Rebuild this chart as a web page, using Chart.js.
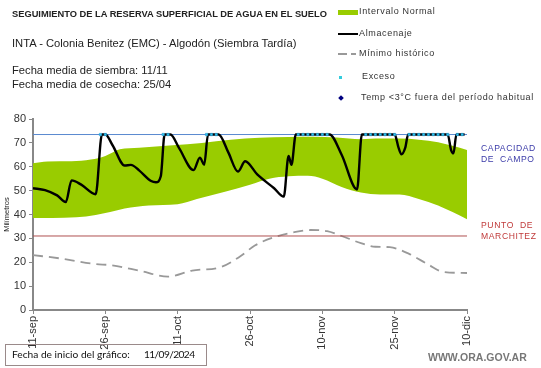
<!DOCTYPE html>
<html>
<head>
<meta charset="utf-8">
<script src="https://cdn.jsdelivr.net/npm/chart.js@4.4.1/dist/chart.umd.min.js"></script>
<style>
  body { margin: 0; background: #fff; }
  #wrap { position: relative; width: 541px; height: 368px; overflow: hidden; font-family: "Liberation Sans", Arial, sans-serif; color: #222; }
  #chart { position: absolute; left: 0; top: 0; }
  .t { position: absolute; white-space: nowrap; }
  .leg { position: absolute; white-space: nowrap; font-size: 9px; letter-spacing: 0.65px; color: #333; }
</style>
</head>
<body>
<div id="wrap">
  <canvas id="chart" width="541" height="368"></canvas>

  <div class="t" style="left:12px; top:9px; font-size:9.3px; font-weight:bold;">SEGUIMIENTO DE LA RESERVA SUPERFICIAL DE AGUA EN EL SUELO</div>
  <div class="t" style="left:12px; top:37px; font-size:11.2px;">INTA - Colonia Benitez (EMC) - Algodón (Siembra Tardía)</div>
  <div class="t" style="left:12px; top:64px; font-size:11.2px;">Fecha media de siembra: 11/11</div>
  <div class="t" style="left:12px; top:78px; font-size:11.2px;">Fecha media de cosecha: 25/04</div>

  <!-- leyenda -->
  <div style="position:absolute; left:338px; top:10px; width:20px; height:5px; background:#99cc00;"></div>
  <div class="leg" style="left:359px; top:6px;">Intervalo Normal</div>
  <div style="position:absolute; left:338px; top:33px; width:20px; height:2px; background:#000;"></div>
  <div class="leg" style="left:359px; top:28px;">Almacenaje</div>
  <div style="position:absolute; left:338px; top:53px; width:9px; height:1.5px; background:#999;"></div>
  <div style="position:absolute; left:351px; top:53px; width:5px; height:1.5px; background:#999;"></div>
  <div class="leg" style="left:359px; top:48px;">Mínimo histórico</div>
  <div style="position:absolute; left:339px; top:76px; width:3px; height:3px; background:#33ccdd;"></div>
  <div class="leg" style="left:362px; top:71px;">Exceso</div>
  <div style="position:absolute; left:339px; top:96px; width:4px; height:4px; background:#000080; transform:rotate(45deg);"></div>
  <div class="leg" style="left:361px; top:92px;">Temp &lt;3°C fuera del período habitual</div>

  <!-- rotulos de umbrales -->
  <div class="t" style="left:481px; top:143px; font-size:8.6px; letter-spacing:0.6px; color:#3a3aa8; line-height:11px;">CAPACIDAD<br>DE&nbsp; CAMPO</div>
  <div class="t" style="left:481px; top:220px; font-size:8.6px; letter-spacing:0.6px; color:#c03a3a; line-height:11px;">PUNTO&nbsp; DE<br>MARCHITEZ</div>

  <div style="position:absolute; left:5px; top:344px; width:202px; height:22px; border:1px solid #9a8a8a; box-sizing:border-box;"></div>
  <div class="t" style="left:12px; top:348px; font-family:Lato, sans-serif; font-size:10.2px; color:#111;">Fecha de inicio del gráfico:</div>
  <div class="t" style="left:144px; top:348px; font-family:Lato, sans-serif; font-size:10.2px; letter-spacing:-0.6px; color:#111;">11/09/2024</div>
  <div class="t" style="left:428px; top:351px; font-size:10.5px; font-weight:bold; color:#777;">WWW.ORA.GOV.AR</div>
</div>

<script>
// dias desde el 11-sep
var tickLabels = ['11-sep', '26-sep', '11-oct', '26-oct', '10-nov', '25-nov', '10-dic'];

var bandDays  = [0, 3, 8, 12, 15, 18, 22, 29, 35, 41, 47, 53, 58, 63, 68, 72, 76, 80, 84, 87, 90];
var bandUpper = [61.5, 62.2, 62.3, 63, 64.5, 67.3, 68, 69, 70, 71.3, 72.1, 72.5, 72.6, 72.2, 71.5, 71.8, 71.8, 71.3, 70.3, 68.8, 67];
var lowDays   = [0, 4, 9, 13, 16, 19, 24, 30, 34, 40, 45, 49, 53, 57, 60, 64, 68, 72, 76, 80, 84, 87, 90];
var bandLower = [38.5, 38.5, 38.8, 39.8, 41, 42.5, 43.8, 44.3, 46.5, 49.6, 52.5, 55, 56, 56.2, 55, 51.5, 49.2, 48.4, 48.4, 46.5, 43.8, 41, 38];

var almDays   = [0, 2.5, 5, 6.8, 8, 10, 13, 14.3, 15, 16.5, 19, 20.3, 22, 24.5, 25.5, 26.5, 27.3, 28.5, 30.3, 33.3, 34.6, 35.5, 36.3, 38.5,
                 40.5, 42.5, 44, 46.5, 50, 52, 53, 53.6, 54.5, 61.5, 64, 67.2, 68.2, 75, 75.8, 76.4, 77.2, 77.8, 86, 86.7, 87.2, 87.8, 89.5];
var almValues = [51, 50.2, 48, 45.2, 54.3, 52.5, 48.5, 73.5, 73.5, 69, 60.5, 60.8, 58.5, 54, 53.5, 56, 73.5, 73.5, 67.8, 58.6, 63.8, 60.9, 73.5, 73.5,
                 66, 58, 62.3, 56.8, 51, 47.5, 64.5, 60.8, 73.5, 73.5, 65, 50.5, 73.5, 73.5, 68, 65.2, 68, 73.5, 73.5, 67, 65.6, 73.5, 73.5];

var minDays   = [0, 6, 13, 16, 22, 28, 33, 39, 43, 46, 50, 54, 57.5, 61, 64, 68, 71, 74, 78, 82, 85, 90];
var minValues = [23, 21.5, 19.2, 18.8, 16.5, 14, 16.5, 18, 22.5, 27, 30.5, 32.5, 33.5, 33, 31, 28, 26.5, 26.3, 23.5, 19, 16, 15.5];

var excesoDays = [14, 15, 27, 28, 36, 37, 38, 55, 56, 57, 58, 59, 60, 61, 69, 70, 71, 72, 73, 74, 75,
                  78, 79, 80, 81, 82, 83, 84, 85, 86, 88, 89];

var capacidadCampo = 73.5;
var puntoMarchitez = 31;

function pts(xs, ys) {
    return xs.map(function (x, i) { return { x: x, y: ys[i] }; });
}
function flat(v) {
    return [{ x: 0, y: v }, { x: 90, y: v }];
}

Chart.defaults.font.family = '"Liberation Sans", Arial, sans-serif';
Chart.defaults.color = '#333';

var ctx = document.getElementById('chart');
var chart = new Chart(ctx, {
    type: 'line',
    data: {
        datasets: [
            {   // intervalo normal (superior)
                data: pts(bandDays, bandUpper),
                borderWidth: 0, borderColor: 'rgba(0,0,0,0)',
                backgroundColor: '#99cc00',
                fill: '+1', pointRadius: 0, cubicInterpolationMode: 'monotone', order: 10
            },
            {   // intervalo normal (inferior)
                data: pts(lowDays, bandLower),
                borderWidth: 0, borderColor: 'rgba(0,0,0,0)',
                fill: false, pointRadius: 0, cubicInterpolationMode: 'monotone', order: 11
            },
            {   // minimo historico
                data: pts(minDays, minValues),
                borderColor: '#999', borderWidth: 1.8, borderDash: [10, 6],
                fill: false, pointRadius: 0, cubicInterpolationMode: 'monotone', order: 5
            },
            {
                data: flat(capacidadCampo),
                borderColor: '#5a8ad0', borderWidth: 1, fill: false, pointRadius: 0, order: 4
            },
            {
                data: flat(puntoMarchitez),
                borderColor: '#b05050', borderWidth: 1, fill: false, pointRadius: 0, order: 4
            },
            {   // almacenaje
                data: pts(almDays, almValues),
                borderColor: '#000', borderWidth: 2.4, fill: false, pointRadius: 0,
                cubicInterpolationMode: 'monotone', order: 2
            },
            {   // exceso
                data: excesoDays.map(function (d) { return { x: d, y: capacidadCampo }; }),
                showLine: false, pointStyle: 'rect', pointRadius: 1.7,
                backgroundColor: '#33ccee', borderColor: '#1f8fd0', borderWidth: 0.5, order: 1
            }
        ]
    },
    options: {
        responsive: false,
        animation: false,
        layout: { padding: { top: 119, right: 74, left: 0, bottom: 0 } },
        plugins: { legend: { display: false }, tooltip: { enabled: false } },
        scales: {
            x: {
                type: 'linear', min: 0, max: 90,
                afterFit: function (scale) { scale.height = 58; },
                grid: { drawOnChartArea: false, drawTicks: true, tickLength: 4, color: '#888' },
                border: { display: true, color: '#888', width: 2 },
                ticks: {
                    stepSize: 15, autoSkip: false, minRotation: 90, maxRotation: 90,
                    font: { size: 11 }, color: '#333', padding: 2,
                    callback: function (v) { return tickLabels[v / 15]; }
                }
            },
            y: {
                min: 0, max: 80,
                afterFit: function (scale) { scale.width = 33; },
                grid: { drawOnChartArea: false, drawTicks: true, tickLength: 4, color: '#888' },
                border: { display: true, color: '#888', width: 2 },
                ticks: { stepSize: 10, font: { size: 11 }, color: '#333', padding: 3 },
                title: { display: true, text: 'Milímetros', font: { size: 7.5 }, color: '#222', padding: { top: 2, bottom: 0 } }
            }
        }
    }
});
</script>
</body>
</html>
